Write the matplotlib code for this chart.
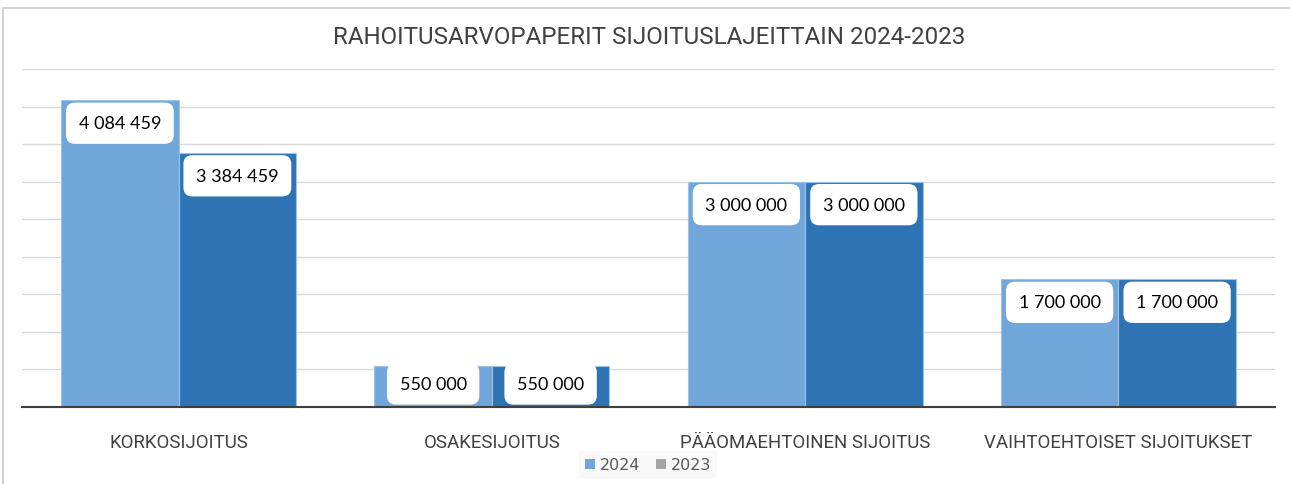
import matplotlib
matplotlib.use("Agg")
import matplotlib.pyplot as plt
from matplotlib.patches import Patch, Rectangle
import numpy as np

categories = ["KORKOSIJOITUS", "OSAKESIJOITUS", "PÄÄOMAEHTOINEN SIJOITUS", "VAIHTOEHTOISET SIJOITUKSET"]
series_names = ["2024", "2023"]
values_2024 = [4084459, 550000, 3000000, 1700000]
values_2023 = [3384459, 550000, 3000000, 1700000]
title = "RAHOITUSARVOPAPERIT SIJOITUSLAJEITTAIN 2024-2023"

W, H = 1290, 485
fig = plt.figure(figsize=(W / 100, H / 100), dpi=100)
fig.patch.set_facecolor("white")

# outer chart frame (left and top edges visible)
fig.add_artist(Rectangle((3 / W, -0.2), 1.5, 1.2 - 9 / H, transform=fig.transFigure,
                         fill=False, edgecolor="#c8c8c8", linewidth=1.2))

ax = fig.add_axes([22 / W, (H - 408) / H, 1253 / W, 338 / H])
ymax = 4500000
ax.set_ylim(0, ymax)
ax.set_xlim(-0.5, len(categories) - 0.5)

x = np.arange(len(categories))
bw = 0.375
c24 = "#70a6da"
c23 = "#2e74b5"
ax.bar(x - bw / 2, values_2024, bw, color=c24, edgecolor="#9dc3e6", linewidth=0.8, zorder=2)
ax.bar(x + bw / 2, values_2023, bw, color=c23, edgecolor="#9dc3e6", linewidth=0.8, zorder=2)

ax.set_yticks(np.arange(0, ymax + 1, 500000))
ax.yaxis.grid(True, color="#d9d9d9", linewidth=1.0, zorder=0)
ax.set_axisbelow(True)
ax.tick_params(axis="y", left=False, labelleft=False)
ax.tick_params(axis="x", bottom=False, pad=15)
for s in ["top", "right", "left"]:
    ax.spines[s].set_visible(False)
ax.spines["bottom"].set_color("#404040")
ax.spines["bottom"].set_linewidth(1.5)
ax.spines["bottom"].set_zorder(3)

ax.set_xticks(x)
ax.set_xticklabels(categories, fontsize=13.4, color="#404040", family="Roboto")

# data labels
d = ymax * 23 / 338
def fmt(v):
    return f"{v:,}".replace(",", " ")

for xs, vals in [(x - bw / 2, values_2024), (x + bw / 2, values_2023)]:
    for xi, v in zip(xs, vals):
        y = max(v - d, d)
        ax.text(xi, y, fmt(v), ha="center", va="center", fontsize=13, color="black",
                family="Lato", zorder=5,
                bbox=dict(boxstyle="round,pad=0.7,rounding_size=0.5", facecolor="white",
                          edgecolor="none"))

fig.text(649 / W, 1 - 38 / H, title, ha="center", va="center", fontsize=17.4,
         color="#404040", family="Roboto")

handles = [Patch(facecolor=c24, edgecolor="none"), Patch(facecolor="#a5a5a5", edgecolor="none")]
leg = fig.legend(handles, series_names, loc="center", bbox_to_anchor=(648 / W, 1 - 466 / H),
                 ncol=2, frameon=True, fontsize=11.5, handlelength=0.6, handleheight=0.6,
                 handletextpad=0.3, columnspacing=1.0, borderpad=0.4, fancybox=False)
leg.get_frame().set_facecolor("#f8f8f8")
leg.get_frame().set_edgecolor("none")
for t in leg.get_texts():
    t.set_color("#595959")

fig.savefig("out.png", dpi=100, facecolor="white")
